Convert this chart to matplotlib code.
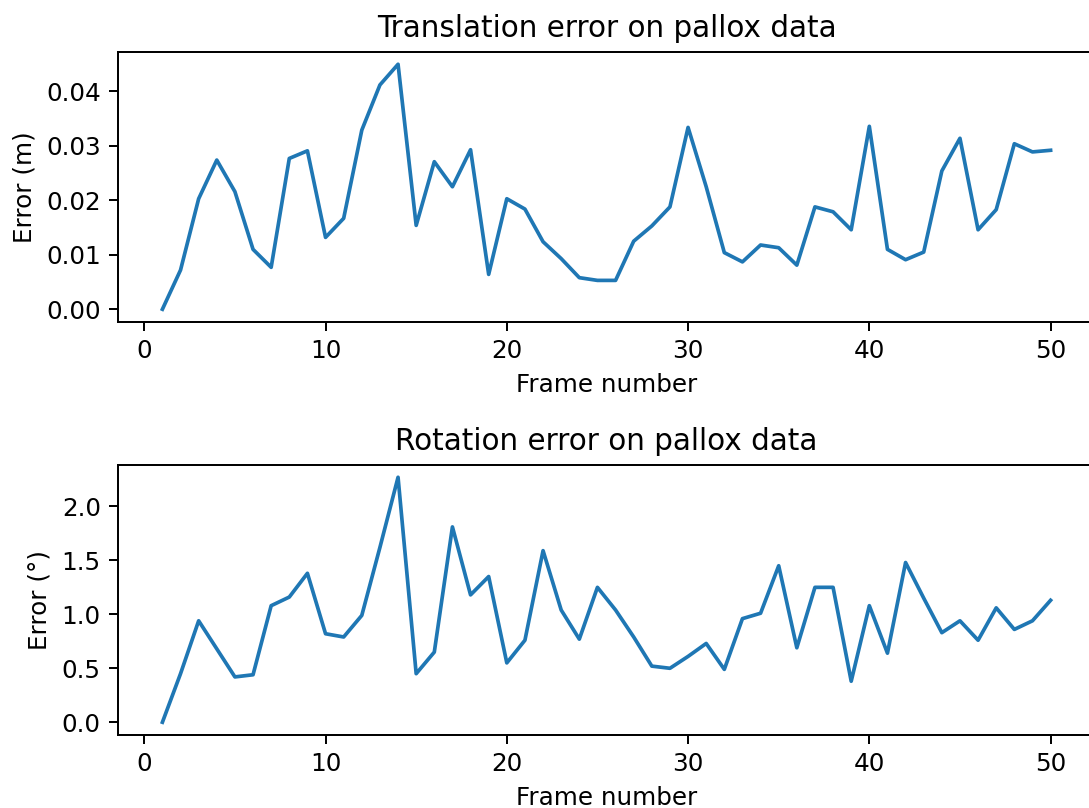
import matplotlib
matplotlib.use("Agg")
import matplotlib.pyplot as plt

DPI = 177
W, H = 1089, 808

frames = list(range(1, 51))

# translation error (m)
trans_err = [0.0000, 0.0072, 0.0203, 0.0274, 0.0216, 0.0110, 0.0077, 0.0277, 0.0291, 0.0132,
             0.0167, 0.0329, 0.0412, 0.0450, 0.0154, 0.0271, 0.0225, 0.0293, 0.0064, 0.0203,
             0.0184, 0.0124, 0.0093, 0.0058, 0.0053, 0.0053, 0.0125, 0.0153, 0.0188, 0.0334,
             0.0225, 0.0104, 0.0087, 0.0118, 0.0113, 0.0081, 0.0188, 0.0179, 0.0146, 0.0336,
             0.0110, 0.0091, 0.0105, 0.0254, 0.0314, 0.0146, 0.0183, 0.0304, 0.0289, 0.0292]

# rotation error (deg)
rot_err = [0.00, 0.45, 0.94, 0.68, 0.42, 0.44, 1.08, 1.16, 1.38, 0.82,
           0.79, 0.99, 1.62, 2.27, 0.45, 0.65, 1.81, 1.18, 1.35, 0.55,
           0.76, 1.59, 1.04, 0.77, 1.25, 1.04, 0.79, 0.52, 0.50, 0.61,
           0.73, 0.49, 0.96, 1.01, 1.45, 0.69, 1.25, 1.25, 0.38, 1.08,
           0.64, 1.48, 1.15, 0.83, 0.94, 0.76, 1.06, 0.86, 0.94, 1.13]

fig = plt.figure(figsize=(W / DPI, H / DPI), dpi=DPI)


def px_axes(left, top, right, bottom):
    return fig.add_axes([left / W, 1 - bottom / H, (right - left) / W, (bottom - top) / H])


ax1 = px_axes(118, 52, 1095, 321.5)
ax1.plot(frames, trans_err)
ax1.set_title("Translation error on pallox data")
ax1.set_xlabel("Frame number")
ax1.set_ylabel("Error (m)")

ax2 = px_axes(118, 465, 1095, 734.5)
ax2.plot(frames, rot_err)
ax2.set_title("Rotation error on pallox data")
ax2.set_xlabel("Frame number")
ax2.set_ylabel("Error (°)")

fig.savefig("out.png", dpi=DPI, facecolor="white")
